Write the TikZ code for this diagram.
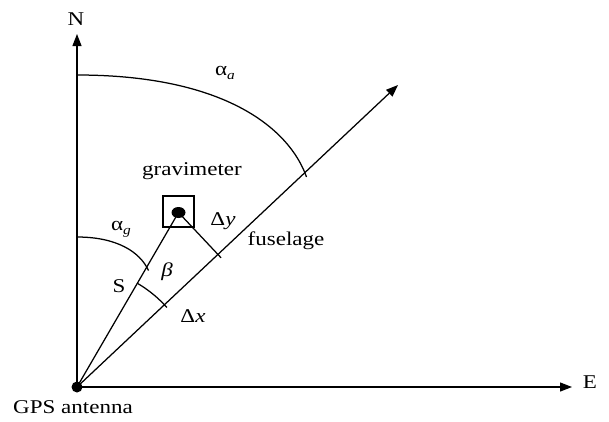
\documentclass[tikz,border=0pt]{standalone}
\usepackage{fontspec}
\setmainfont[FakeStretch=1.18]{Liberation Serif}
\usetikzlibrary{arrows.meta,calc,shapes.geometric}
\newcommand{\subsc}[1]{\raisebox{-0.4ex}{\fontsize{13}{13}\selectfont\textit{#1}}}
\begin{document}
\begin{tikzpicture}[x=1pt,y=-1pt,
  ln/.style={line width=1.25pt,black},
  arr/.style={ln,-{Triangle[length=12pt,width=9pt]}},
  lbl/.style={inner sep=0pt,font=\fontsize{19.5}{22}\selectfont},
  dotn/.style={fill=black,inner sep=0pt}]
\useasboundingbox (0,0) rectangle (609,421);
% main points
\coordinate (O) at (77,387);
\coordinate (Ntip) at (77,34);
\coordinate (Etip) at (572,387);
\coordinate (F) at (398,85);
\node[dotn,ellipse,minimum width=14pt,minimum height=11pt] (G) at (178.5,212.5) {};
\node[draw,line width=1.25pt,minimum size=31pt,inner sep=0pt] (box) at (178.5,211.5) {};
% axes
\draw[arr] (O) -- (Ntip);
\draw[arr] (O) -- (Etip);
\draw[arr] (O) -- (F);
% S line and perpendicular
\draw[ln] (O) -- (G.center);
\coordinate (foot) at ($(O)!(G.center)!(F)$);
\coordinate (footx) at ($(G.center)!1.08!(foot)$);
\draw[ln] (G.center) -- (footx);
% angle arcs
\coordinate (aa1) at (77,75);
\coordinate (aa2) at (306.5,177);
\draw[ln] (aa1) .. controls (227,75) and (290,130) .. (aa2);
\coordinate (ag1) at (77,237);
\coordinate (ag2) at (148.5,270.5);
\draw[ln] (ag1) .. controls (117,237) and (140,252) .. (ag2);
\coordinate (b1) at ($(O)+(-59.6:120)$);
\draw[ln] (b1) arc[start angle=-59.6,end angle=-41.5,radius=120];
% origin dot
\node[dotn,circle,minimum size=11pt] (Odot) at (O) {};
% labels
\node[lbl] (Nl) at (76,19) {N};
\node[lbl] (El) at (590,382) {E};
\node[lbl] (gps) at (73,407) {GPS antenna};
\node[lbl] (grav) at (192,171) {gravimeter};
\node[lbl] (fus) at (286,241) {fuselage};
\node[lbl] (alA) at (225,73) {α\subsc{a}};
\node[lbl] (alG) at (121,229) {α\subsc{g}};
\node[lbl] (Sl) at (119,286) {S};
\node[lbl] (bl) at (167,272) {\textit{β}};
\node[lbl] (dy) at (223,221) {Δ\textit{y}};
\node[lbl] (dx) at (193,316) {Δ\textit{x}};
\end{tikzpicture}
\end{document}
